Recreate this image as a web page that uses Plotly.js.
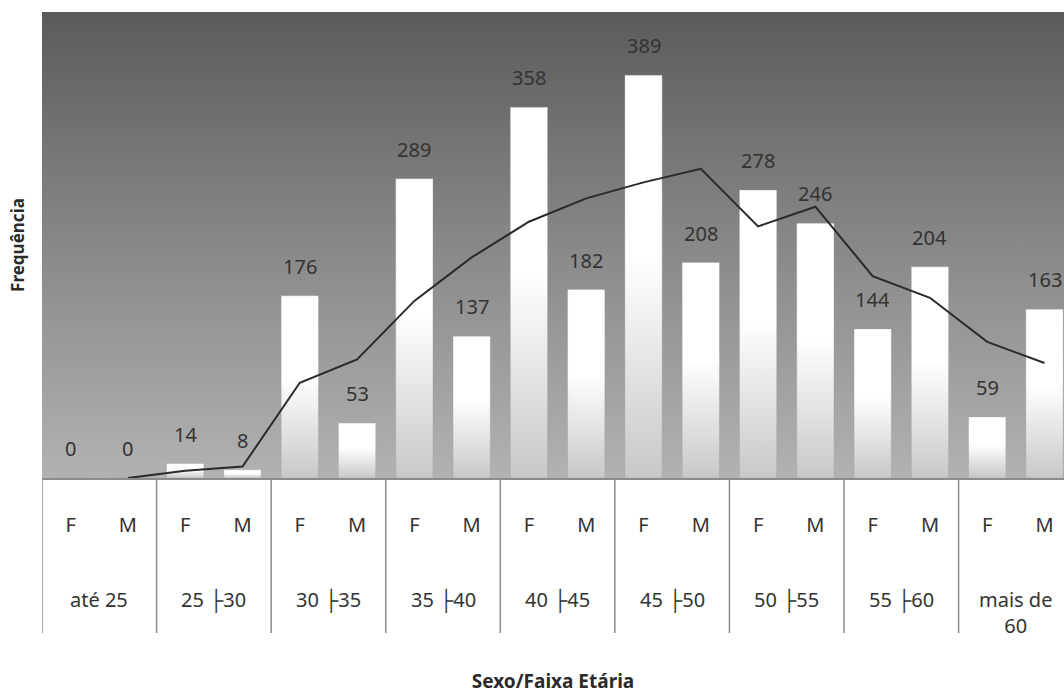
<!DOCTYPE html>
<html>
<head>
<meta charset="utf-8">
<script src="https://cdn.plot.ly/plotly-3.0.1.min.js"></script>
<style>
  html, body { margin: 0; padding: 0; background: #ffffff; overflow: hidden; }
  #chart { width: 1064px; height: 694px; }
</style>
</head>
<body>
<div id="chart"></div>
<script>
// Age bands (outer category row) and sex (inner category row)
const faixas = ['até 25', '25 ├30', '30 ├35', '35 ├40', '40 ├45', '45 ├50', '50 ├55', '55 ├60', 'mais de<br>60'];
const sexos = ['F', 'M'];

// Frequencies per age band
const freqF = [0, 14, 176, 289, 358, 389, 278, 144, 59];
const freqM = [0, 8, 53, 137, 182, 208, 246, 204, 163];

// Two-period moving average line, starting at the second column
const mediaMovel = [0, 7, 11, 92, 114.5, 171, 213, 247.5, 270, 285.5, 298.5, 243, 262, 195, 174, 131.5, 111];

// Flatten into one column per (band, sex)
const xIdx = [], yVal = [], sexoTick = [];
faixas.forEach((f, g) => {
  sexos.forEach((s, k) => {
    xIdx.push(xIdx.length);
    yVal.push(k === 0 ? freqF[g] : freqM[g]);
    sexoTick.push(s);
  });
});
const xMedia = mediaMovel.map((_, i) => i + 1);

const txtColor = '#333333';
const fontFam = '"Noto Sans", "Open Sans", sans-serif';

// Value labels above each bar
const labelAnn = xIdx.map(i => ({
  x: i, y: yVal[i], xref: 'x', yref: 'y',
  text: String(yVal[i]), showarrow: false,
  yanchor: 'bottom', yshift: 14,
  font: { family: fontFam, size: 20, color: txtColor }
}));

// Age band labels under the sex row
const faixaAnn = faixas.map((f, g) => ({
  x: 2 * g + 0.5, y: -0.2275, xref: 'x', yref: 'paper',
  text: f, showarrow: false, yanchor: 'top',
  font: { family: fontFam, size: 20, color: txtColor }
}));

// Vertical separators between the age bands in the category table
const divisores = faixas.map((f, g) => ({
  type: 'line', xref: 'x', yref: 'paper',
  x0: 2 * g - 0.5, x1: 2 * g - 0.5, y0: 0, y1: -0.3326,
  line: { color: '#8c8c8c', width: 1.5 }
}));

// Vertical grey gradient for the plotting area
const bgSvg = "<svg xmlns='http://www.w3.org/2000/svg' width='100' height='100' preserveAspectRatio='none'>" +
  "<defs><linearGradient id='g' x1='0' y1='0' x2='0' y2='1'>" +
  "<stop offset='0' stop-color='#5b5b5b'/><stop offset='0.5' stop-color='#888888'/><stop offset='1' stop-color='#b2b2b2'/>" +
  "</linearGradient></defs><rect width='100' height='100' fill='url(#g)'/></svg>";
const bgUri = 'data:image/svg+xml;charset=utf-8,' + encodeURIComponent(bgSvg);

const traces = [
  {
    type: 'bar', x: xIdx, y: yVal, width: 0.65,
    marker: { color: '#ffffff', line: { color: 'rgba(160,160,160,0.6)', width: 0.6 } },
    hoverinfo: 'x+y', showlegend: false
  },
  {
    type: 'scatter', mode: 'lines', x: xMedia, y: mediaMovel,
    line: { color: '#2a2a2a', width: 2 },
    hoverinfo: 'y', showlegend: false
  }
];

const layout = {
  width: 1064, height: 694,
  margin: { l: 42, r: 0, t: 12, b: 216 },
  paper_bgcolor: '#ffffff',
  plot_bgcolor: 'rgba(0,0,0,0)',
  font: { family: fontFam, color: txtColor },
  bargap: 0.35,
  xaxis: {
    range: [-0.5, 17.34],
    tickmode: 'array', tickvals: xIdx, ticktext: sexoTick,
    ticks: '', ticklabelstandoff: 28,
    tickfont: { family: fontFam, size: 20, color: txtColor },
    showgrid: false, zeroline: false,
    showline: true, linecolor: '#8c8c8c', linewidth: 1.5,
    fixedrange: true,
    title: {
      text: 'Sexo/Faixa Etária', standoff: 141,
      font: { family: fontFam, size: 19, color: '#2a2a2a', weight: 'bold' }
    }
  },
  yaxis: {
    range: [0, 450],
    showticklabels: false, ticks: '', showgrid: false, zeroline: false,
    showline: false, fixedrange: true,
    title: {
      text: 'Frequência', standoff: 12,
      font: { family: fontFam, size: 17, color: '#2a2a2a', weight: 'bold' }
    }
  },
  images: [{
    source: bgUri, xref: 'paper', yref: 'paper',
    x: 0, y: 1, sizex: 1, sizey: 1, xanchor: 'left', yanchor: 'top',
    sizing: 'stretch', layer: 'below'
  }],
  shapes: divisores,
  annotations: labelAnn.concat(faixaAnn)
};

Plotly.newPlot('chart', traces, layout, { displayModeBar: false, staticPlot: true }).then(gd => {
  // White-to-grey vertical fill inside each bar
  const svgNS = 'http://www.w3.org/2000/svg';
  const defs = gd.querySelector('svg.main-svg defs');
  const grad = document.createElementNS(svgNS, 'linearGradient');
  grad.setAttribute('id', 'barFill');
  grad.setAttribute('x1', '0'); grad.setAttribute('y1', '0');
  grad.setAttribute('x2', '0'); grad.setAttribute('y2', '1');
  [['0', '#ffffff'], ['0.45', '#ffffff'], ['1', '#c8c8c8']].forEach(([o, c]) => {
    const st = document.createElementNS(svgNS, 'stop');
    st.setAttribute('offset', o); st.setAttribute('stop-color', c);
    grad.appendChild(st);
  });
  defs.appendChild(grad);
  gd.querySelectorAll('.barlayer .trace.bars .point path').forEach(p => {
    p.style.fill = 'url(#barFill)';
  });
});
</script>
</body>
</html>
